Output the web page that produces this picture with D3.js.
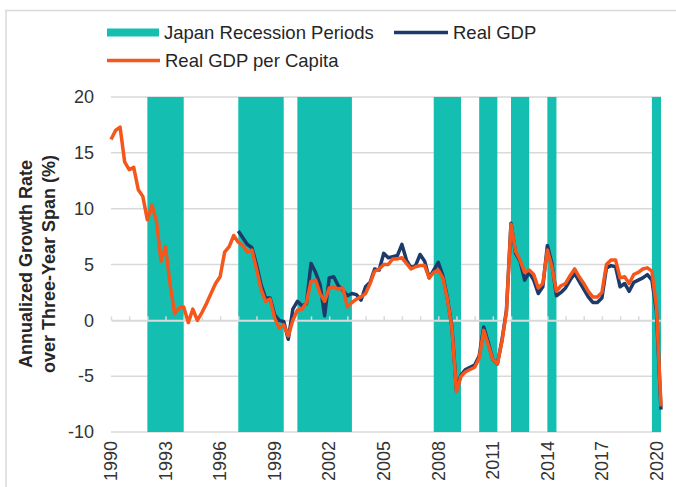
<!DOCTYPE html>
<html>
<head>
<meta charset="utf-8">
<script src="https://cdn.jsdelivr.net/npm/d3@7"></script>
<style>
  html, body { margin: 0; padding: 0; background: #fff; }
  svg { display: block; font-family: "Liberation Sans", Arial, sans-serif; }
</style>
</head>
<body>
<svg id="chart" width="676" height="487"></svg>
<script>
// ---------------- data ----------------
const startYear = 1990;            // first quarter: 1990 Q1 (quarterly series)
const yTicks = [-10, -5, 0, 5, 10, 15, 20];
const xTickLabels = ["1990","1993","1996","1999","2002","2005","2008","2011","2014","2017","2020"];
const recessionStart = [1992.0, 1997.0, 2000.25, 2007.75, 2010.25, 2012.0, 2014.0, 2019.75];
const recessionEnd   = [1994.0, 1999.5, 2003.25, 2009.25, 2011.25, 2013.0, 2014.5, 2020.25];

const realGDPperCapita = [
  16.2, 17.0, 17.3, 14.2, 13.5, 13.7, 11.7, 11.1,
  9.0, 10.3, 8.9, 5.3, 6.6, 3.2, 0.6, 1.1,
  1.2, -0.2, 1.0, 0.0, 0.7, 1.5, 2.4, 3.3,
  3.9, 6.1, 6.6, 7.6, 7.0, 6.7, 6.1, 6.3,
  4.6, 2.8, 1.7, 1.9, 0.2, -0.7, -0.4, -1.4,
  0.0, 0.9, 1.0, 1.6, 3.5, 3.6, 2.4, 1.7,
  2.9, 3.0, 2.8, 2.9, 1.2, 1.6, 1.9, 2.1,
  2.4, 3.3, 4.4, 4.6, 5.0, 5.0, 5.5, 5.5,
  5.6, 5.1, 4.6, 4.8, 4.9, 4.9, 3.8, 4.3,
  4.5, 3.8, 1.9, -0.7, -6.4, -5.0, -4.6, -4.4,
  -4.2, -3.4, -0.9, -2.2, -3.5, -3.9, -1.9, 0.8,
  8.6, 6.2, 5.4, 4.3, 4.5, 4.1, 2.9, 3.3,
  6.3, 4.8, 2.6, 3.1, 3.3, 4.0, 4.6, 3.9,
  3.3, 2.6, 2.1, 2.1, 2.5, 5.0, 5.4, 5.4,
  3.8, 3.9, 3.3, 4.1, 4.3, 4.6, 4.7, 4.4,
  1.2, -7.7
];

const realGDP = [
  null, null, null, null, null, null, null, null,
  null, null, null, null, null, null, null, null,
  null, null, null, null, null, null, null, null,
  null, null, null, null, 8.0, 7.4, 6.8, 6.5,
  5.0, 3.2, 2.0, 2.0, 0.5, 0.0, -0.1, -1.7,
  1.0, 1.7, 1.3, 1.5, 5.1, 4.3, 3.2, 0.4,
  3.8, 3.9, 3.1, 2.7, 2.2, 2.4, 2.3, 1.8,
  3.0, 3.4, 4.6, 4.5, 6.0, 5.6, 5.7, 5.8,
  6.8, 5.4, 4.7, 4.9, 5.9, 5.3, 3.8, 4.5,
  5.2, 4.0, 2.0, -0.6, -6.3, -4.9, -4.4, -4.2,
  -4.0, -3.2, -0.6, -2.0, -3.5, -3.9, -1.8, 0.9,
  8.7, 6.0, 5.3, 3.6, 4.3, 3.6, 2.4, 3.0,
  6.7, 5.1, 2.2, 2.5, 2.9, 3.6, 4.2, 3.5,
  2.8, 2.1, 1.6, 1.6, 2.0, 4.7, 4.9, 4.8,
  3.0, 3.3, 2.6, 3.4, 3.6, 3.8, 4.1, 3.6,
  0.8, -8.0
];

// ---------------- chart ----------------
const svg = d3.select("#chart");
const teal = "#14BFB2", navy = "#1C3A6A", orange = "#F4561B", grid = "#D9D9D9", txt = "#333333";

const lastYear = startYear + (realGDPperCapita.length - 1) / 4;
const x = d3.scaleLinear().domain([startYear, lastYear]).range([111, 661]);
const y = d3.scaleLinear().domain([-10, 20]).range([432, 97]);
const qYear = i => startYear + i / 4;

// frame
svg.append("rect").attr("x", 6).attr("y", 10.5).attr("width", 700).attr("height", 500)
  .attr("fill", "none").attr("stroke", grid).attr("stroke-width", 1.5);

// gridlines (under bars)
svg.append("g").selectAll("line").data(yTicks.filter(d => d !== 0)).join("line")
  .attr("x1", x.range()[0]).attr("x2", x.range()[1])
  .attr("y1", d => y(d)).attr("y2", d => y(d))
  .attr("stroke", grid).attr("stroke-width", 1.5);

// recession bars
svg.append("g").selectAll("rect").data(recessionStart.map((s, i) => [s, recessionEnd[i]])).join("rect")
  .attr("x", d => x(d[0])).attr("width", d => x(d[1]) - x(d[0]))
  .attr("y", y(20)).attr("height", y(-10) - y(20))
  .attr("fill", teal);

// zero axis with yearly ticks (over bars)
const years = d3.range(startYear, Math.floor(lastYear) + 1);
const xAxisZero = d3.axisTop(x).tickValues(years).tickSize(4).tickFormat("").tickSizeOuter(0);
const gz = svg.append("g").attr("transform", `translate(0,${y(0)})`).call(xAxisZero);
gz.select(".domain").attr("stroke", grid).attr("stroke-width", 2);
gz.selectAll(".tick line").attr("stroke", grid).attr("stroke-width", 1.5);

// y tick labels (plain hyphen minus as in the reference)
const yAxis = d3.axisLeft(y).tickValues(yTicks).tickSize(0).tickPadding(0).tickFormat(d => String(d));
const gy = svg.append("g").attr("transform", "translate(94,0)").call(yAxis);
gy.select(".domain").remove();
gy.selectAll("text").attr("font-size", 18).attr("fill", txt)
  .attr("font-family", "'Liberation Sans', Arial, sans-serif");

// x tick labels (rotated)
svg.append("g").selectAll("text").data(xTickLabels).join("text")
  .attr("transform", d => `translate(${x(+d)},441) rotate(-90)`)
  .attr("text-anchor", "end").attr("dy", "0.35em")
  .attr("font-size", 18).attr("fill", txt)
  .text(d => d);

// lines
const line = d3.line()
  .defined(d => d[1] !== null)
  .x(d => x(d[0])).y(d => y(d[1]));

svg.append("path")
  .datum(realGDP.map((v, i) => [qYear(i), v]))
  .attr("d", line).attr("fill", "none").attr("stroke", navy)
  .attr("stroke-width", 3.5).attr("stroke-linejoin", "round");

svg.append("path")
  .datum(realGDPperCapita.map((v, i) => [qYear(i), v]))
  .attr("d", line).attr("fill", "none").attr("stroke", orange)
  .attr("stroke-width", 3.5).attr("stroke-linejoin", "round");

// y axis title
const title = svg.append("text")
  .attr("transform", "translate(0,264) rotate(-90)")
  .attr("text-anchor", "middle").attr("font-size", 18).attr("font-weight", "bold").attr("fill", "#262626");
title.append("tspan").attr("x", 0).attr("y", 25.5).attr("dy", "0.35em").text("Annualized Growth Rate");
title.append("tspan").attr("x", 0).attr("y", 48.5).attr("dy", "0.35em").text("over Three-Year Span (%)");

// legend
const lg = svg.append("g").attr("font-size", 18.5).attr("fill", "#262626");
lg.append("rect").attr("x", 107).attr("y", 28.5).attr("width", 52).attr("height", 8).attr("fill", teal);
lg.append("text").attr("x", 164).attr("y", 32.5).attr("dy", "0.35em").text("Japan Recession Periods");
lg.append("line").attr("x1", 394).attr("x2", 448).attr("y1", 32.5).attr("y2", 32.5)
  .attr("stroke", navy).attr("stroke-width", 3.5);
lg.append("text").attr("x", 453).attr("y", 32.5).attr("dy", "0.35em").text("Real GDP");
lg.append("line").attr("x1", 107).attr("x2", 160).attr("y1", 60.5).attr("y2", 60.5)
  .attr("stroke", orange).attr("stroke-width", 3.5);
lg.append("text").attr("x", 165).attr("y", 60.5).attr("dy", "0.35em").text("Real GDP per Capita");
</script>
</body>
</html>
